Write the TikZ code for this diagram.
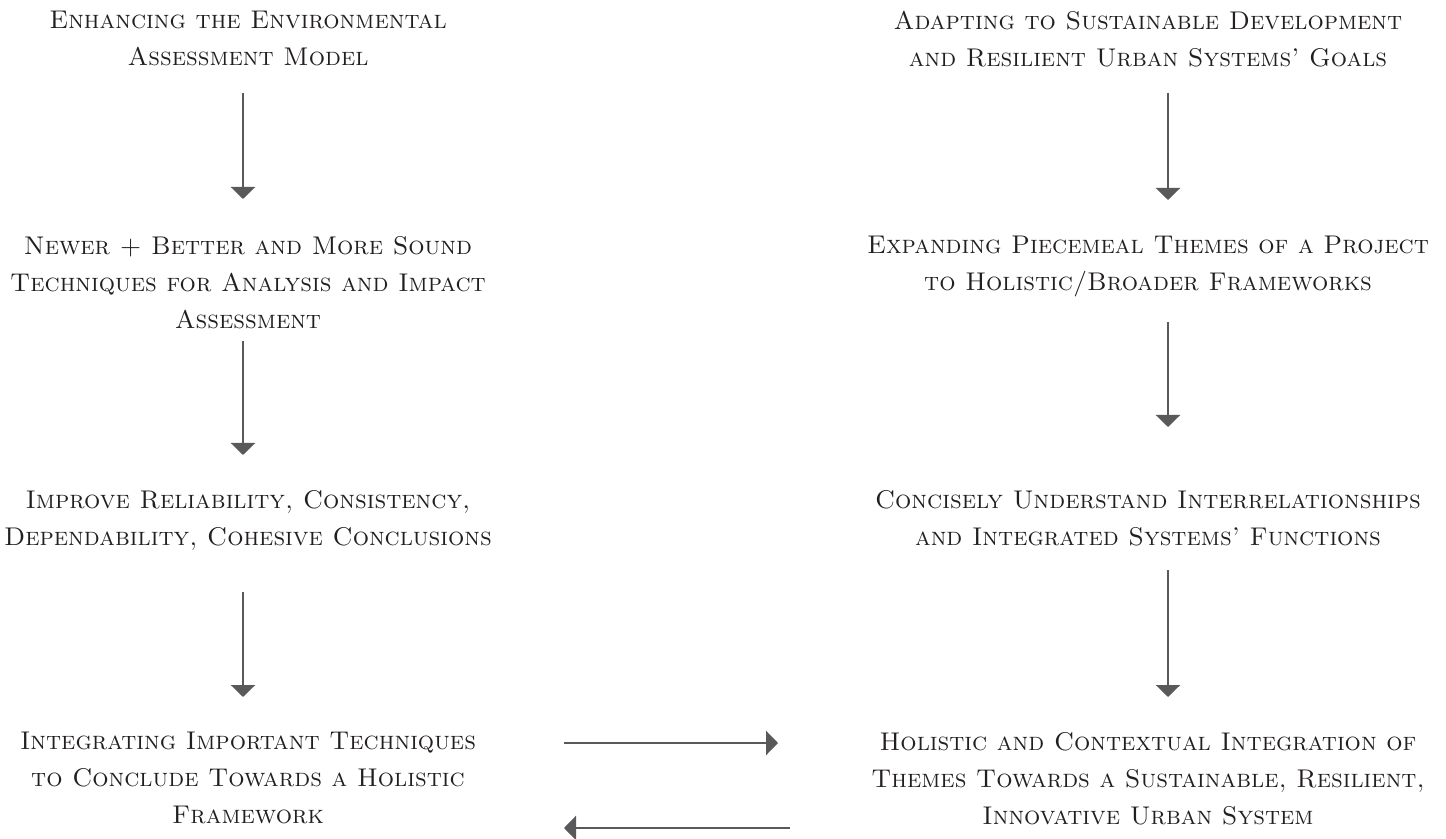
\documentclass[tikz,border=0pt]{standalone}
\usepackage{fontspec}
\usetikzlibrary{arrows.meta}
\definecolor{inkc}{HTML}{231F20}
\definecolor{arrowc}{HTML}{58595B}
\tikzset{
  stage/.style={anchor=north, inner sep=0pt, outer sep=0pt, align=center,
    text=inkc, text depth=0pt,
    font=\fontsize{12.8}{18.4}\selectfont\scshape},
  flow/.style={draw=arrowc, line width=1.25pt,
    -{Triangle[width=12pt,length=6pt]}, fill=none}
}
\begin{document}
\begin{tikzpicture}[x=0.5pt, y=-0.5pt]
  \useasboundingbox (0,0) rectangle (1446,839);

  % left column
  \node[stage] (L1) at (248,11.5)  {Enhancing the Environmental\\Assessment Model};
  \node[stage] (L2) at (248,236.5) {Newer + Better and More Sound\\Techniques for Analysis and Impact\\Assessment};
  \node[stage] (L3) at (248,490.5) {Improve Reliability, Consistency,\\Dependability, Cohesive Conclusions};
  \node[stage] (L4) at (248,732.5) {Integrating Important Techniques\\to Conclude Towards a Holistic\\Framework};

  % right column
  \node[stage] (R1) at (1148,11.5)  {Adapting to Sustainable Development\\and Resilient Urban Systems’ Goals};
  \node[stage] (R2) at (1148,236.5) {Expanding Piecemeal Themes of a Project\\to Holistic/Broader Frameworks};
  \node[stage] (R3) at (1148,490.5) {Concisely Understand Interrelationships\\and Integrated Systems’ Functions};
  \node[stage] (R4) at (1148,732.5) {Holistic and Contextual Integration of\\Themes Towards a Sustainable, Resilient,\\Innovative Urban System};

  % vertical flow, left
  \draw[flow, shorten <=13.5pt, shorten >=18.75pt] ([xshift=-2.5pt]L1.south) -- ([xshift=-2.5pt]L2.north);
  \draw[flow, shorten <=6.5pt,  shorten >=17.75pt] ([xshift=-2.5pt]L2.south) -- ([xshift=-2.5pt]L3.north);
  \draw[flow, shorten <=23.5pt, shorten >=17.75pt] ([xshift=-2.5pt]L3.south) -- ([xshift=-2.5pt]L4.north);

  % vertical flow, right
  \draw[flow, shorten <=13pt,   shorten >=18.25pt] ([xshift=10pt]R1.south) -- ([xshift=10pt]R2.north);
  \draw[flow, shorten <=15.5pt, shorten >=31.75pt] ([xshift=10pt]R2.south) -- ([xshift=10pt]R3.north);
  \draw[flow, shorten <=12.5pt, shorten >=17.75pt] ([xshift=10pt]R3.south) -- ([xshift=10pt]R4.north);

  % exchange between the two bottom stages
  \coordinate (toRa) at (564,743);
  \coordinate (toRb) at (778,743);
  \coordinate (toLa) at (790,828);
  \coordinate (toLb) at (564,828);
  \draw[flow] (toRa) -- (toRb);
  \draw[flow] (toLa) -- (toLb);
\end{tikzpicture}
\end{document}
